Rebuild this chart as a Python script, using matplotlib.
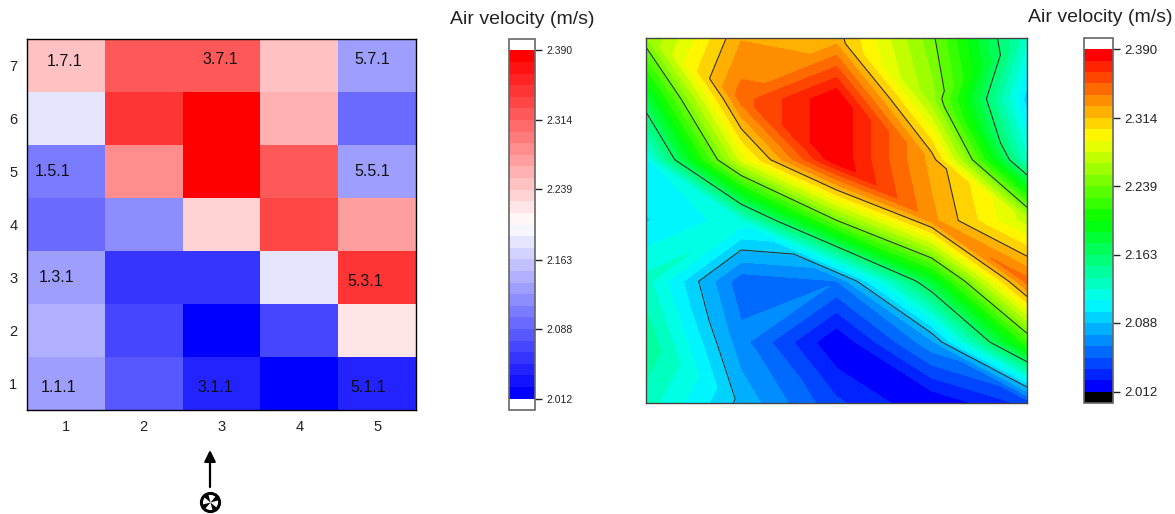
import numpy as np
import matplotlib
matplotlib.use('Agg')
import matplotlib.pyplot as plt
import matplotlib.tri as mtri
from matplotlib.colors import BoundaryNorm, LinearSegmentedColormap
from matplotlib.patches import Circle, FancyArrowPatch, Wedge

plt.rcParams['font.family'] = ['Liberation Sans', 'DejaVu Sans']

W, H = 1175, 514

# air velocity per column (1-5), rows listed from 1 at the bottom to 7 at the top
columns = [1, 2, 3, 4, 5]
rows = [1, 2, 3, 4, 5, 6, 7]
row1 = [2.132, 2.084, 2.040, 2.013, 2.041]
row2 = [2.148, 2.067, 2.013, 2.072, 2.221]
row3 = [2.130, 2.054, 2.062, 2.182, 2.345]
row4 = [2.099, 2.120, 2.2385, 2.331, 2.270]
row5 = [2.112, 2.281, 2.389, 2.322, 2.127]
row6 = [2.177, 2.346, 2.389, 2.256, 2.094]
row7 = [2.250, 2.326, 2.320, 2.243, 2.127]
velocity = np.array([row1, row2, row3, row4, row5, row6, row7])

vmin = 2.012
vmax = 2.390
n_bands = 30
tick_values = [2.012, 2.088, 2.163, 2.239, 2.314, 2.390]
tick_labels = ['2.012', '2.088', '2.163', '2.239', '2.314', '2.390']
cbar_title = 'Air velocity (m/s)'
sensor_labels = ['1.7.1', '3.7.1', '5.7.1', '1.5.1', '5.5.1',
                 '1.3.1', '5.3.1', '1.1.1', '3.1.1', '5.1.1']
# label centres in picture pixels, the labels are not centred in their cells
sensor_px = [(65, 62), (220, 60), (372, 60), (53, 171), (372, 171),
             (57, 277), (365, 281), (59, 387), (215, 387), (368, 387)]


def px_axes(fig, left, top, right, bottom):
    # axes placed by pixel box of the reference picture
    return fig.add_axes([left / W, 1 - bottom / H, (right - left) / W, (bottom - top) / H])


def grid_triangles(z):
    # split every cell along the diagonal whose two ends have the closest values
    ny, nx = z.shape
    flat = z.ravel()
    tris = []
    for j in range(ny - 1):
        for i in range(nx - 1):
            a = j * nx + i
            b = a + 1
            c = a + nx
            d = c + 1
            if abs(flat[a] - flat[d]) < abs(flat[b] - flat[c]):
                tris += [[a, b, d], [a, d, c]]
            else:
                tris += [[a, b, c], [b, d, c]]
    return tris


def add_colorbar(fig, mappable, box, labelsize, title_xy):
    cax = px_axes(fig, *box)
    cb = fig.colorbar(mappable, cax=cax, extend='both', extendrect=True,
                      extendfrac=0.0325, spacing='proportional', ticks=tick_values)
    cb.ax.set_yticks(tick_values, tick_labels)
    cb.ax.tick_params(which='minor', length=0)
    cb.ax.tick_params(length=5, width=1, labelsize=labelsize, pad=3, color='#222222',
                      labelcolor='#222222')
    cb.outline.set_edgecolor('#666666')
    cb.outline.set_linewidth(1.2)
    fig.text(title_xy[0] / W, 1 - title_xy[1] / H, cbar_title, fontsize=14,
             ha='center', va='center', color='#222222')
    return cb


fig = plt.figure(figsize=(W / 100, H / 100), dpi=100)
levels = np.linspace(vmin, vmax, n_bands + 1)
norm = BoundaryNorm(levels, n_bands)

# left: cell map
ax1 = px_axes(fig, 27, 39, 416, 410)
cmap1 = plt.get_cmap('bwr').resampled(n_bands).with_extremes(over='white', under='white')
mesh = ax1.pcolormesh(columns, rows, velocity, cmap=cmap1, norm=norm, shading='nearest')
ax1.set_xticks(columns)
ax1.set_yticks(rows)
ax1.tick_params(length=0, labelsize=10.5, pad=7, labelcolor='#222222')
for sp in ax1.spines.values():
    sp.set_linewidth(1)
for name, (px, py) in zip(sensor_labels, sensor_px):
    ax1.text(0.5 + (px - 27) / 389 * 5, 0.5 + (410 - py) / 371 * 7, name,
             fontsize=11.5, ha='center', va='center', color='#111111')
add_colorbar(fig, mesh, (509, 39, 535, 410), 7.5, (522, 19))

# right: filled contours of the same values
ax2 = px_axes(fig, 646, 38, 1027, 403)
cmap2 = LinearSegmentedColormap.from_list(
    'blue_red', ['#0000FF', '#00FFFF', '#00FF00', '#FFFF00', '#FF0000'])
cmap2 = cmap2.resampled(n_bands).with_extremes(over='white', under='black')
xx, yy = np.meshgrid(columns, rows)
tri = mtri.Triangulation(xx.ravel(), yy.ravel(), grid_triangles(velocity))
filled = ax2.tricontourf(tri, velocity.ravel(), levels=levels, cmap=cmap2, norm=norm, extend='both')
ax2.tricontour(tri, velocity.ravel(), levels=tick_values[1:5], colors='#333333', linewidths=0.8)
ax2.set_xticks([])
ax2.set_yticks([])
for sp in ax2.spines.values():
    sp.set_edgecolor('#444444')
    sp.set_linewidth(1)
add_colorbar(fig, filled, (1084, 38, 1113, 403), 9.5, (1100, 18))

# fan and air flow arrow under column 3
fig.add_artist(FancyArrowPatch(
    (210 / W, 1 - 487 / H), (210 / W, 1 - 450 / H), transform=fig.transFigure,
    arrowstyle='-|>', mutation_scale=17, color='black', linewidth=1.6,
    shrinkA=0, shrinkB=0))
fan = px_axes(fig, 198, 491, 223, 514)
fan.set_xlim(-1.1, 1.1)
fan.set_ylim(-1.0, 1.0)
fan.set_aspect('equal')
fan.axis('off')
fan.add_patch(Circle((0, 0), 0.8, facecolor='white', edgecolor='black', linewidth=2.2))
for start in [15, 105, 195, 285]:
    fan.add_patch(Wedge((0, 0), 0.75, start, start + 35, facecolor='black'))

fig.savefig('out.png', dpi=100)
